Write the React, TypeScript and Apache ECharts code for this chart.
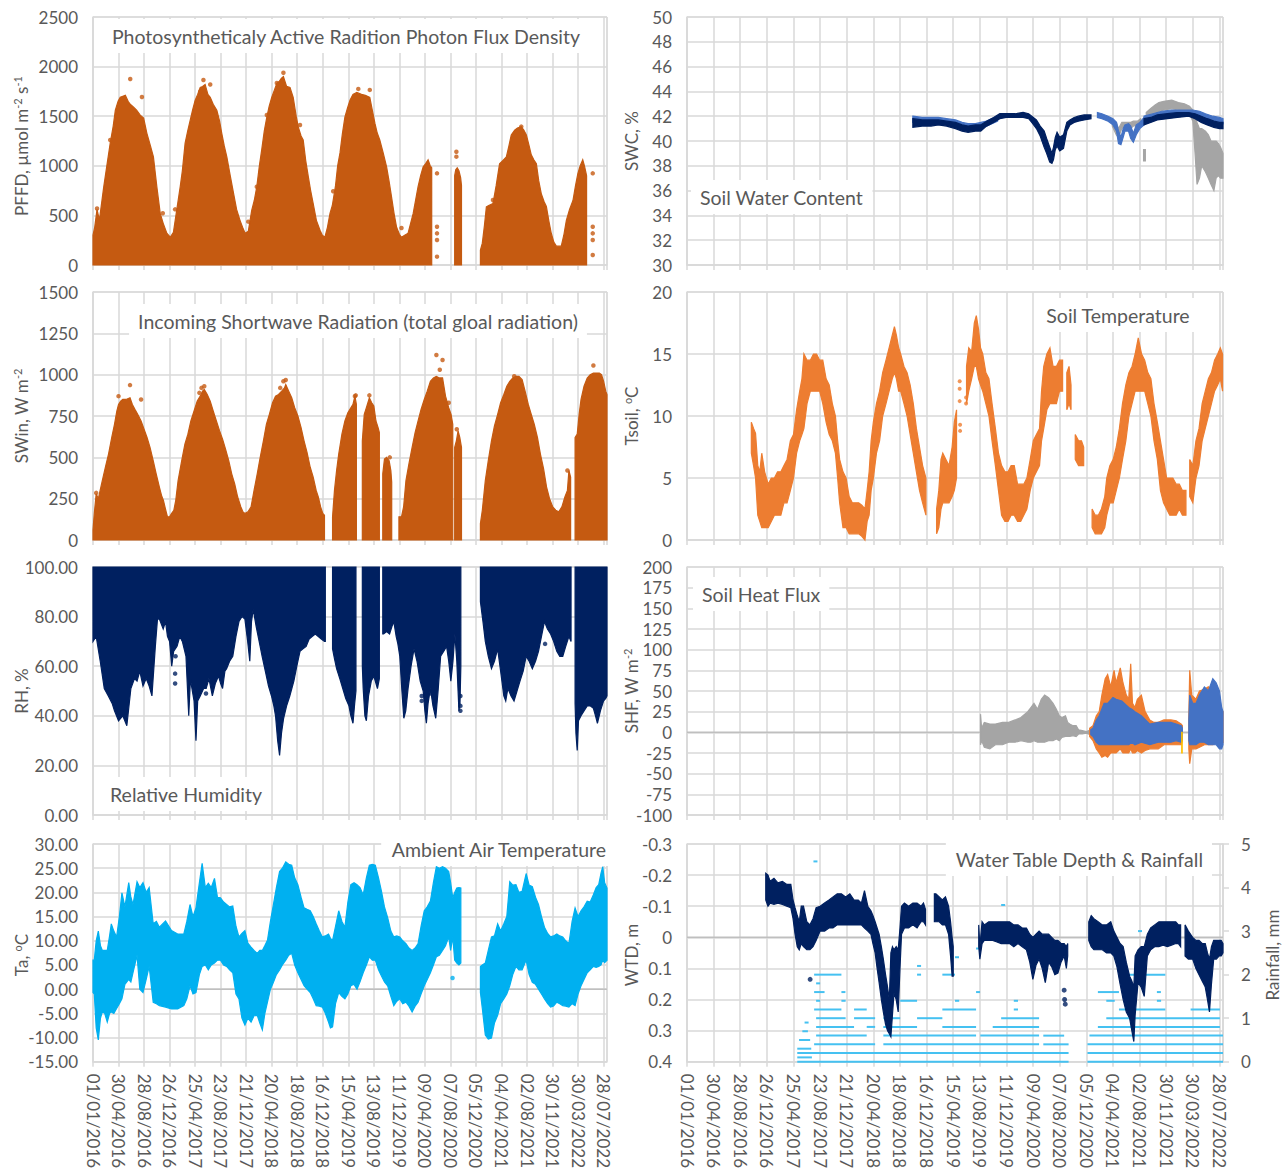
import React, { useEffect, useRef } from "react";
import * as echarts from "echarts";

// ---------- axes ----------
const X_MIN = 0;
const X_MAX = 2416; // days after 01/01/2016
const X_STEP = 120;
const START_UTC = Date.UTC(2016, 0, 1);

// ---------- data (day since 01/01/2016, values) ----------
// PFFD upper envelope [day, value] (filled down to 0)
const pffdSegments: number[][][] = [
  [[0,300],[8,380],[19,560],[30,450],[50,780],[65,1000],[81,1230],[95,1400],[105,1560],[118,1650],[128,1690],[140,1700],[152,1710],[165,1650],[175,1620],[191,1590],[205,1560],[222,1510],[238,1480],[253,1330],[270,1200],[284,1090],[300,790],[316,520],[330,420],[347,320],[363,280],[378,330],[394,560],[410,790],[420,950],[433,1230],[445,1350],[457,1460],[468,1560],[480,1660],[492,1720],[504,1790],[515,1800],[527,1820],[540,1720],[551,1690],[565,1620],[582,1560],[595,1450],[605,1330],[617,1200],[629,1090],[645,900],[660,730],[675,560],[691,450],[703,380],[715,320],[730,340],[746,550],[758,650],[770,790],[782,1000],[793,1160],[805,1350],[817,1490],[828,1600],[840,1690],[852,1760],[864,1830],[875,1850],[885,1880],[895,1900],[910,1800],[926,1790],[941,1690],[955,1500],[965,1390],[978,1300],[988,1260],[1000,1050],[1012,890],[1023,750],[1035,620],[1050,450],[1067,350],[1078,300],[1090,280],[1102,380],[1114,520],[1125,600],[1140,800],[1150,1000],[1161,1130],[1172,1320],[1184,1490],[1196,1580],[1208,1660],[1222,1720],[1240,1740],[1262,1720],[1280,1710],[1301,1690],[1313,1560],[1325,1430],[1336,1330],[1348,1260],[1364,1130],[1380,990],[1392,840],[1403,690],[1415,520],[1427,380],[1440,310],[1450,280],[1465,300],[1481,320],[1493,420],[1505,520],[1516,650],[1528,790],[1540,900],[1552,990],[1563,1020],[1575,1060],[1585,1000],[1592,980]],
  [[1700,900],[1705,960],[1712,980],[1720,950],[1728,880],[1732,800]],
  [[1821,150],[1830,220],[1840,400],[1849,585],[1860,600],[1870,610],[1880,620],[1895,800],[1911,1020],[1925,1050],[1943,1090],[1955,1200],[1966,1310],[1982,1360],[1995,1380],[2013,1395],[2025,1360],[2037,1310],[2050,1200],[2060,1110],[2072,1060],[2084,1020],[2095,850],[2107,720],[2120,640],[2131,590],[2143,440],[2154,320],[2166,230],[2178,190],[2190,190],[2201,190],[2213,300],[2225,450],[2240,560],[2256,650],[2268,800],[2279,920],[2290,1000],[2302,1060],[2310,1000],[2318,920],[2320,900]],
];
const pffdDots: number[][] = [
  [19,570],[81,1260],[175,1875],[230,1694],[328,521],[386,561],[504,1750],[519,1865],[551,1820],[730,437],[770,789],[817,1512],[864,1835],[895,1938],[973,1411],[1129,744],[1247,1775],[1301,1765],[1450,373],[1617,924],[1617,386],[1617,319],[1617,252],[1617,84],[1708,1142],[1708,1092],[1880,655],[2013,1395],[2349,924],[2349,386],[2349,319],[2349,252],[2349,101],
];

// SWin upper envelope [day, value]
const swinSegments: number[][][] = [
  [[0,60],[6,160],[15,280],[25,250],[44,360],[60,450],[73,520],[88,620],[101,700],[112,780],[120,820],[130,840],[140,850],[155,850],[174,860],[185,820],[197,790],[210,760],[226,720],[240,670],[254,620],[268,560],[283,480],[297,400],[312,320],[322,270],[331,240],[342,180],[350,140],[360,140],[369,160],[380,180],[389,240],[400,360],[417,480],[432,580],[446,640],[460,720],[475,780],[490,840],[504,870],[515,900],[523,910],[537,880],[551,840],[565,780],[580,720],[595,660],[609,610],[623,550],[638,480],[652,400],[666,340],[680,260],[695,200],[705,170],[714,160],[728,170],[743,200],[757,300],[772,400],[786,500],[801,600],[815,700],[829,760],[844,830],[858,870],[872,880],[887,900],[900,920],[906,940],[920,900],[934,860],[948,800],[963,750],[978,680],[992,600],[1006,530],[1021,440],[1035,380],[1049,300],[1059,260],[1070,200],[1080,160],[1088,150]],
  [[1126,140],[1135,300],[1145,420],[1155,520],[1170,640],[1184,720],[1198,770],[1212,800],[1222,820],[1231,870],[1238,820]],
  [[1266,600],[1275,760],[1285,800],[1299,860],[1310,830],[1320,810],[1330,720],[1340,680],[1346,650]],
  [[1362,400],[1370,490],[1380,500],[1392,480],[1400,420],[1404,350]],
  [[1438,140],[1450,140],[1460,200],[1471,360],[1485,460],[1500,560],[1514,650],[1528,720],[1542,790],[1557,850],[1571,900],[1586,960],[1600,980],[1614,990],[1628,980],[1643,980],[1657,870],[1672,800],[1683,760],[1691,700]],
  [[1700,560],[1708,600],[1716,660],[1724,620],[1732,560]],
  [[1821,100],[1830,180],[1844,360],[1858,480],[1873,600],[1887,690],[1902,760],[1916,830],[1931,880],[1945,930],[1959,960],[1973,980],[1988,990],[2002,990],[2017,970],[2031,900],[2046,820],[2060,760],[2074,700],[2089,620],[2103,520],[2118,430],[2132,320],[2146,250],[2161,200],[2175,180],[2189,170],[2204,200],[2218,260],[2230,300],[2237,420],[2245,380]],
  [[2266,620],[2276,640],[2285,760],[2294,850],[2308,930],[2323,980],[2337,1000],[2352,1010],[2366,1010],[2380,1010],[2390,1000],[2400,960],[2410,900],[2416,880]],
];
const swinDots: number[][] = [
  [15,285],[120,870],[174,937],[226,850],[500,890],[510,920],[523,930],[880,920],[895,960],[906,968],[1231,870],[1235,875],[1299,875],[1395,500],[1614,1119],[1630,1030],[1643,1089],[1672,830],[1710,670],[1980,990],[2230,420],[2352,1055],
];

// RH lower envelope [day, value] (filled up to 100)
const rhSegments: number[][][] = [
  [[0,70],[15,72],[34,62],[53,51],[72,48],[90,45],[101,42],[120,38],[140,40],[159,36],[178,51],[195,55],[207,54],[220,58],[235,52],[250,55],[264,52],[277,48],[293,68],[303,79],[312,79],[330,75],[341,78],[350,72],[360,70],[370,60],[379,66],[395,68],[408,72],[420,70],[437,64],[450,40],[458,55],[465,51],[475,46],[484,30],[492,46],[504,48],[520,51],[532,51],[545,55],[561,48],[575,53],[590,56],[600,53],[609,51],[620,58],[628,59],[642,62],[657,64],[672,72],[686,78],[700,80],[714,79],[727,70],[737,62],[745,78],[753,83],[767,76],[781,70],[795,64],[810,58],[825,52],[839,48],[850,44],[858,40],[868,30],[877,24],[886,33],[896,39],[910,44],[925,48],[944,54],[958,60],[973,66],[987,67],[1002,68],[1016,71],[1030,72],[1045,73],[1059,72],[1073,71],[1088,70],[1092,70]],
  [[1126,67],[1135,63],[1145,59],[1160,55],[1174,51],[1188,47],[1203,44],[1212,40],[1222,37],[1230,45],[1236,50]],
  [[1266,60],[1270,51],[1278,40],[1285,38],[1295,48],[1308,54],[1320,56],[1337,51],[1346,55]],
  [[1362,73],[1366,73],[1380,74],[1394,73],[1405,76],[1414,78],[1425,72],[1433,69],[1442,64],[1452,50],[1461,39],[1470,42],[1481,51],[1495,60],[1509,67],[1523,62],[1538,54],[1552,50],[1560,42],[1567,37],[1575,45],[1586,51],[1598,44],[1611,39],[1622,50],[1634,64],[1648,66],[1662,68],[1672,62],[1682,54],[1692,62],[1701,73],[1710,62],[1716,50],[1720,42],[1725,45],[1729,60]],
  [[1821,86],[1833,78],[1844,70],[1858,64],[1873,59],[1887,62],[1902,67],[1916,58],[1931,48],[1940,46],[1950,51],[1965,48],[1979,46],[1993,50],[2007,54],[2022,58],[2036,64],[2050,62],[2065,59],[2080,62],[2094,66],[2108,72],[2122,78],[2136,75],[2151,73],[2165,70],[2180,66],[2194,64],[2208,64],[2222,68],[2237,72],[2247,70]],
  [[2266,45],[2270,33],[2276,26],[2282,38],[2294,40],[2308,42],[2323,44],[2337,44],[2352,43],[2362,40],[2371,37],[2385,42],[2400,46],[2410,47],[2416,48]],
];
const rhDots: number[][] = [[386,53],[386,57],[388,64],[1545,48],[1545,46],[1590,49],[1727,42],[1727,44],[1727,48],[531,49],[2125,69]];

// Ta band [day, low, high]
const taSegments: number[][][] = [
  [[0,-0.7,6],[6,-1,6],[15,-8,10],[25,-10.5,12],[35,-6,9],[44,-4.7,8],[55,-5,8],[67,-6.8,8],[78,-5,11],[86,-4.7,13.5],[98,-5,12],[111,-4,10.8],[124,-3,15],[136,-2,19.9],[150,1,17],[168,2,22],[178,1.5,19],[188,3.4,17.5],[207,7,22.2],[220,0,21],[235,-0.7,22],[250,2,20],[264,4.7,21],[283,-2.7,13.5],[298,-3,14],[312,-3.4,12.8],[341,-3.7,14.1],[369,-4.1,12.1],[398,-4.1,11.4],[427,-3.4,11.4],[441,-2,14],[456,0.7,17.5],[470,-1,15],[484,-0.7,16.8],[500,3,22],[513,4.7,26],[528,5,21],[542,4,21.9],[556,5,21],[571,5.4,22.9],[585,6,19],[599,6,18.9],[614,5,18],[628,4.7,17.5],[642,4,17],[657,3.4,17.2],[672,-1,13],[686,-2,10.8],[700,-6,11.5],[714,-7.4,12.1],[728,-6,9.5],[743,-6.8,8.7],[757,-5.5,8],[772,-5.4,7.4],[784,-7,8],[796,-8.4,8],[808,-5,9],[820,-2.7,10.1],[834,0,14],[848,1.4,17.5],[862,3,21],[877,4,24.3],[890,5,25],[906,6,26.3],[920,7,25.8],[934,7.4,25.6],[948,5,23],[963,3.4,21.6],[978,2,19],[992,0.7,16.8],[1006,0,16.5],[1021,-0.7,16.2],[1035,-2,15],[1049,-3.4,13.5],[1064,-3.5,12],[1078,-3.7,10.8],[1092,-5,11],[1107,-6.8,11.4],[1116,-8,10.5],[1126,-7.8,10.1],[1140,-3,13],[1155,-0.7,16.2],[1170,-1.5,14],[1184,-2,12.8],[1198,-1,18],[1212,0.7,21.6],[1227,1,22],[1241,0,21.6],[1255,1.5,21],[1270,3.4,19.5],[1285,5,23],[1299,6.7,25.6],[1313,6,25.8],[1327,6,25.6],[1342,4,23],[1356,2.7,20.2],[1370,1.5,17],[1385,0.7,14.8],[1400,-1.5,12],[1414,-3.4,10.8],[1428,-2.5,11],[1442,-2,10.8],[1456,-3,10],[1471,-2.7,9.4],[1485,-3.5,8.5],[1500,-4.7,8],[1514,-3.5,8.5],[1528,-2.7,9.4],[1542,-1,13],[1557,0.7,16.2],[1571,2,17],[1586,3.4,18.2],[1600,5,22],[1614,6.7,25.3],[1628,7,25],[1643,8,25.3],[1657,9,25],[1672,10.8,24.3],[1681,8,22],[1691,10.8,18.9],[1700,6,20],[1710,5.4,20.9],[1720,5,21],[1729,5.4,20.9]],
  [[1821,-0.7,4.7],[1830,-4,5],[1844,-9.5,5.4],[1858,-10.3,8],[1873,-10.1,10.8],[1887,-7,11],[1902,-5.4,13.5],[1916,-3,12],[1931,-2,13.5],[1945,-1,15],[1959,0.7,22.2],[1973,3,21.5],[1988,4.7,21.6],[2002,4,20],[2017,4,20.2],[2036,6,23.9],[2050,3,21.5],[2065,1.4,21.2],[2080,1,19],[2094,0,17.5],[2108,-1,15],[2122,-2,12.8],[2137,-3,11.5],[2151,-3.7,10.8],[2165,-3.5,11],[2180,-2.7,11.4],[2194,-3,11],[2208,-3.4,10.8],[2222,-3.5,10],[2237,-3.7,9.4],[2252,-3,14],[2266,-3.4,16.8],[2280,-1,15],[2294,0.7,16.2],[2308,2,17],[2323,3.4,18.2],[2337,4,18],[2352,4.7,19.5],[2365,4.5,21],[2377,4.7,21.6],[2388,5,24],[2396,6,25.3],[2405,5.5,22],[2416,6,20.9]],
];
const taDots: number[][] = [[1690,2.3],[1129,-3.3]];

// Soil water content bands [day, low, high]
const swcGraySegments: number[][][] = [
  [[1917,41.2,41.6],[1935,40.5,41.5],[1945,40.3,41],[1960,41,41.5],[1980,41.2,41.5],[2000,41,41.5],[2012,41.2,41.6],[2030,41.3,41.6],[2045,41.5,41.8]],
  [[2058,38.4,39.3],[2066,38.4,39.3]],
  [[2070,41.6,42.3],[2089,41.8,42.6],[2110,42.2,42.9],[2127,42.4,43.1],[2150,42.5,43.2],[2185,42.6,43.3],[2215,42.5,43.1],[2242,42.4,43],[2265,42.2,42.8],[2280,41.6,42.5],[2290,39,42],[2299,36.5,41.5],[2310,37,41],[2320,38,41],[2337,37.5,40.8],[2350,37,40.5],[2362,36.5,40],[2375,36,40],[2385,37,40],[2395,37.2,39.8],[2405,37,39.5],[2416,37,39]],
];
const swcBlueSegments: number[][][] = [
  [[1018,41.5,42],[1060,41.5,41.9],[1100,41.5,41.9],[1133,41.5,41.9],[1170,41.5,41.8],[1210,41.2,41.7],[1240,41,41.5],[1267,40.9,41.4],[1300,41,41.4],[1350,41.2,41.6],[1400,41.6,42]],
  [[1850,41.9,42.3],[1870,41.8,42.2],[1898,41.6,42],[1920,41.3,41.8],[1936,40.8,41.5],[1945,39.8,40.8],[1956,39.7,40.3],[1966,40.3,41],[1974,40.8,41.3],[1990,40.8,41.4],[2000,40.2,41.2],[2012,39.9,40.6],[2025,40.5,41.3],[2041,41,41.5],[2060,41.3,41.9]],
  [[2060,41.5,42],[2100,41.8,42.2],[2140,42,42.4],[2185,42.1,42.5],[2230,42.1,42.5],[2280,42,42.5],[2310,41.9,42.4],[2337,41.7,42.2],[2370,41.6,42],[2400,41.5,41.9],[2416,41.4,41.8]],
];
const swcNavySegments: number[][][] = [
  [[1018,41.1,41.8],[1060,41.2,41.7],[1100,41.2,41.7],[1133,41.3,41.7],[1170,41.2,41.6],[1210,41,41.5],[1240,40.8,41.3],[1267,40.7,41.2],[1300,40.8,41.3],[1324,40.8,41.3],[1350,41.2,41.6],[1382,41.5,41.9],[1410,41.8,42.2],[1439,41.9,42.2],[1480,41.9,42.2],[1515,41.9,42.3],[1540,41.8,42.2],[1554,41.5,42],[1575,41,41.7],[1592,40.4,41.2],[1610,39.5,40.8],[1621,39,40.2],[1635,38.3,39.5],[1645,38.2,39],[1652,38.5,39.5],[1660,39.3,40.3],[1668,39.6,40.7],[1680,39.2,40.3],[1697,39.4,40.5],[1712,40.8,41.5],[1726,41.3,41.7],[1745,41.5,41.9],[1764,41.6,42],[1790,41.7,42.1],[1821,41.8,42.1]],
  [[2060,41.3,41.8],[2090,41.5,41.9],[2120,41.7,42.1],[2165,41.8,42.2],[2210,41.9,42.3],[2261,42,42.3],[2290,41.8,42.2],[2318,41.5,42],[2345,41.3,41.8],[2375,41.1,41.6],[2400,41,41.5],[2416,41,41.5]],
];

// Soil temperature band [day, low, high]
const tsoilSegments: number[][][] = [
  [[290,7,9.5],[300,6,9],[309,5,8.6],[319,2,6],[328,1.5,5.5],[337,1,7],[350,1,5.5],[366,1,4.5],[380,1.5,5],[394,2,5],[408,2,5.5],[423,2,5.5],[437,3,6],[451,3,6.5],[466,4,8],[480,5,8.5],[494,7,10.5],[508,8,12],[518,8.5,13],[527,9,15],[541,11,14.5],[556,12,14.5],[570,12,15],[584,12,15],[598,12,14.5],[612,11,14.5],[627,9.5,13],[641,8.5,12.5],[655,8,11],[669,7,10],[679,5,8],[688,3,6.5],[703,1,5.5],[717,1,5],[731,0.5,3.5],[745,0.5,3],[760,0.5,3],[774,0.5,3],[788,0.3,2.8],[802,0,2.5],[812,1.5,4],[821,2,5.5],[830,4,8],[840,5,9.5],[854,7,11],[868,8,12],[882,10,13.5],[897,11,14.5],[911,12,15.5],[925,13,16.5],[935,13.5,17.2],[944,13,16.5],[954,12,15.5],[963,12,15],[978,11,14],[992,10,13.5],[1006,8.5,12.5],[1020,7,11],[1034,5.5,9],[1048,4,7.5],[1062,3,6],[1077,2,5]],
  [[1125,0.5,2.5],[1135,1,4],[1145,2.5,6.5],[1153,3,7],[1167,3,6.5],[1181,3,6],[1195,3.5,7.5],[1205,4,9.5],[1215,5,10.5]],
  [[1260,11,14],[1270,12,15.5],[1283,13,15.2],[1295,14,17.5],[1304,14,18.1],[1314,13,17],[1323,12.5,15.5],[1333,12,15],[1347,11,13.5],[1361,10,13],[1375,8,11],[1390,6,9],[1404,4,7],[1418,2,6],[1433,1.5,5.5],[1447,1.5,5.5],[1461,2,6],[1475,2,6],[1490,1.5,4.5],[1504,1.5,4.5],[1518,2,4.5],[1532,2.5,5],[1547,4,6.5],[1561,5,8],[1575,5.5,8.5],[1589,6,9],[1598,8,12],[1608,9,14],[1622,10.5,15],[1636,11,15.5],[1650,11,14],[1665,11,14],[1679,12,14.5],[1693,12,14.5]],
  [[1712,10.5,13.5],[1722,11,14],[1731,10.5,12.5]],
  [[1750,6.5,8.5],[1765,6,8],[1778,6,8],[1788,6,7.5]],
  [[1826,1,2.5],[1840,0.5,2],[1854,0.5,2],[1868,0.5,2.5],[1883,1,3.5],[1892,2,5],[1906,3,6],[1921,3,6.5],[1935,4,7.5],[1949,5,9],[1963,6.5,11],[1978,8,12.5],[1992,10,13.5],[2006,11,14],[2020,12,15],[2034,12,16.3],[2049,12,15],[2063,12,14.5],[2077,11,13.5],[2091,10,13],[2105,8,11],[2120,6.5,9.5],[2134,4,8],[2148,3,6.5],[2162,2.5,5],[2176,2,5],[2190,2,5],[2205,2,4.5],[2219,2.5,4.5],[2233,2,4],[2249,2,4]],
  [[2266,3.5,6.5],[2280,3,6],[2294,5,8],[2308,6,9],[2322,8,11],[2336,9,12],[2350,10,13],[2364,11,13.5],[2378,12,14.5],[2392,12.5,15],[2404,13,15.5],[2414,12,15]],
];
const tsoilDots: number[][] = [[1229,12.8],[1229,12.2],[1229,11.2],[1231,9.3],[1231,8.8],[1258,11],[1258,11.5]];

// Soil heat flux bands [day, low, high]
const shfGraySegments: number[][][] = [
  [[1323,-15,22],[1328,-10,5],[1340,-18,12],[1365,-20,10],[1390,-15,10],[1422,-15,12],[1450,-12,12],[1479,-12,15],[1505,-10,18],[1536,-12,25],[1550,-12,30],[1564,-10,35],[1580,-12,28],[1597,-12,40],[1612,-12,45],[1630,-10,42],[1650,-10,35],[1665,-8,28],[1678,-10,20],[1690,-6,18],[1706,-5,20],[1716,-5,12],[1725,-5,10],[1740,-4,8],[1754,-5,8],[1765,-2,3],[1782,-2,2],[1800,-1,1],[1820,-3,3],[1830,-2,2]],
];
const shfOrangeSegments: number[][][] = [
  [[1815,-5,5],[1830,-10,8],[1845,-20,20],[1858,-25,25],[1870,-30,45],[1885,-28,65],[1896,-30,70],[1910,-25,55],[1925,-25,75],[1934,-25,60],[1945,-22,70],[1953,-20,78],[1965,-25,60],[1980,-25,45],[1991,-25,40],[2000,-20,83],[2008,-25,35],[2019,-25,30],[2030,-22,40],[2048,-25,45],[2065,-22,25],[2086,-20,15],[2105,-20,12],[2124,-20,12],[2150,-15,15],[2181,-15,15],[2205,-15,14],[2228,-15,10],[2233,-10,8]],
  [[2262,-20,20],[2266,-38,75],[2275,-20,45],[2294,-20,40],[2310,-18,50],[2332,-15,52],[2350,-15,55],[2370,-15,50],[2390,-12,45],[2404,-10,30],[2416,-12,25]],
];
const shfBlueSegments: number[][][] = [
  [[1820,-3,3],[1830,-5,5],[1845,-12,15],[1858,-15,20],[1880,-15,35],[1896,-15,35],[1920,-15,42],[1934,-15,40],[1960,-15,38],[1991,-15,30],[2005,-12,28],[2019,-15,25],[2048,-12,20],[2086,-15,10],[2124,-12,12],[2160,-12,12],[2181,-12,12],[2205,-10,10],[2228,-12,8],[2233,-8,5]],
  [[2262,-10,15],[2266,-15,45],[2280,-15,35],[2294,-15,35],[2310,-12,45],[2332,-12,55],[2350,-15,50],[2370,-15,65],[2385,-15,60],[2400,-20,50],[2410,-20,30],[2416,-15,25]],
];
const shfYellowSegments: number[][][] = [[[2230,-25,0],[2232,-25,0]]];

// Water table depth band [day, low, high] (m)
const wtdSegments: number[][][] = [
  [[355,-0.206,-0.12],[365,-0.2,-0.1],[375,-0.18,-0.11],[392,-0.19,-0.106],[410,-0.175,-0.11],[430,-0.18,-0.106],[450,-0.17,-0.1],[468,-0.17,-0.095],[478,-0.12,-0.06],[487,-0.095,-0.01],[497,-0.07,0.03],[506,-0.05,0.04],[515,-0.1,0.02],[525,-0.1,0.03],[540,-0.05,0.04],[554,-0.04,0.04],[568,-0.06,0.03],[582,-0.095,0.01],[600,-0.1,-0.02],[620,-0.11,-0.02],[640,-0.12,-0.03],[658,-0.13,-0.03],[677,-0.14,-0.04],[696,-0.14,-0.04],[715,-0.13,-0.04],[734,-0.14,-0.04],[753,-0.12,-0.04],[772,-0.12,-0.04],[786,-0.11,-0.04],[800,-0.15,-0.03],[815,-0.1,-0.02],[829,-0.085,-0.01],[838,-0.07,0.02],[848,-0.05,0.05],[857,-0.03,0.1],[866,-0.01,0.146],[876,0.03,0.2],[885,0.07,0.24],[895,0.12,0.28],[904,0.16,0.3],[912,0.2,0.31],[919,0.05,0.32],[926,0.03,0.25],[933,0.04,0.18],[943,0.03,0.2],[952,0.04,0.24],[960,-0.03,0.1],[967,-0.1,-0.01],[980,-0.11,-0.03],[999,-0.1,-0.03],[1018,-0.11,-0.04],[1037,-0.11,-0.03],[1055,-0.1,-0.05],[1066,-0.11,-0.05],[1075,-0.09,-0.04]],
  [[1115,-0.14,-0.05],[1122,-0.14,-0.05],[1137,-0.13,-0.05],[1151,-0.12,-0.04],[1165,-0.13,-0.04],[1179,-0.1,-0.01],[1188,-0.05,0.06],[1195,0,0.125],[1200,0.03,0.125]],
  [[1315,-0.04,0.03],[1320,0.03,0.07],[1330,-0.05,0.02],[1340,-0.04,0.01],[1360,-0.05,0.01],[1378,-0.05,0.01],[1397,-0.05,0.015],[1416,-0.05,0.02],[1435,-0.05,0.02],[1454,-0.05,0.02],[1473,-0.04,0.03],[1492,-0.04,0.02],[1511,-0.03,0.03],[1530,-0.03,0.04],[1545,-0.01,0.08],[1559,0,0.135],[1573,-0.01,0.09],[1587,-0.02,0.07],[1601,-0.01,0.1],[1615,-0.01,0.146],[1630,-0.01,0.08],[1644,0,0.095],[1658,0.01,0.12],[1672,0.01,0.115],[1686,0.02,0.08],[1700,0.02,0.06],[1710,0.03,0.1],[1716,0.02,0.06]],
  [[1811,-0.05,0.01],[1822,-0.07,0.03],[1834,-0.06,0.04],[1853,-0.05,0.04],[1872,-0.04,0.04],[1891,-0.04,0.05],[1910,-0.05,0.05],[1924,-0.02,0.06],[1938,0,0.095],[1952,0.02,0.15],[1966,0.03,0.2],[1980,0.08,0.24],[1995,0.125,0.26],[2005,0.14,0.3],[2014,0.16,0.335],[2020,0.06,0.25],[2033,0.04,0.146],[2047,0.03,0.16],[2061,0.03,0.19],[2075,-0.01,0.06],[2090,-0.03,0.04],[2108,-0.04,0.03],[2127,-0.05,0.03],[2146,-0.05,0.025],[2165,-0.05,0.03],[2184,-0.05,0.025],[2203,-0.05,0.02],[2215,-0.04,0.02],[2225,-0.04,0.03]],
  [[2245,-0.04,0.06],[2260,-0.02,0.07],[2279,0,0.07],[2294,0.01,0.1],[2308,0.01,0.12],[2322,0.02,0.14],[2336,0.02,0.16],[2346,0.05,0.2],[2355,0.07,0.24],[2364,0.03,0.15],[2374,0.01,0.07],[2386,0.01,0.07],[2398,0.01,0.06],[2408,0.01,0.06],[2416,0.02,0.05]],
];
const wtdDots: number[][] = [[555,0.135],[1700,0.17],[1702,0.2],[1705,0.215]];

// Rainfall runs [start day, end day, mm]
const rainRuns: number[][] = [
  [497,1720,0],[1805,2416,0],
  [497,563,0.1],[497,560,0.3],[505,555,0.5],[520,545,0.7],[530,540,0.9],
  [497,1720,0.2],[1805,2416,0.2],
  [573,848,0.4],[885,1587,0.4],[1606,1720,0.4],[1805,2416,0.4],
  [582,810,0.6],[885,1303,0.6],[1322,1587,0.6],[1606,1700,0.6],[1814,2416,0.6],
  [582,753,0.8],[810,848,0.8],[885,1037,0.8],[1151,1303,0.8],[1378,1587,0.8],[1852,2402,0.8],
  [582,715,1.0],[753,848,1.0],[885,961,1.0],[1037,1151,1.0],[1416,1587,1.0],[1890,2402,1.0],
  [573,696,1.2],[753,810,1.2],[885,923,1.2],[1151,1303,1.2],[1473,1492,1.2],[1947,2156,1.2],[2270,2402,1.2],
  [582,600,1.4],[696,715,1.4],[961,1037,1.4],[1208,1227,1.4],[1473,1492,1.4],[1890,1928,1.4],[2118,2137,1.4],
  [573,620,1.6],[696,702,1.6],[1303,1310,1.6],[1852,1947,1.6],[2118,2125,1.6],
  [582,590,1.8],[2042,2061,1.8],
  [573,696,2.0],[1037,1050,2.0],[1151,1208,2.0],[1985,2156,2.0],
  [1037,1045,2.2],
  [1208,1215,2.4],[2033,2040,2.4],[2345,2383,2.4],
  [1303,1310,2.6],
  [582,590,3.0],[2033,2040,3.0],
  [1416,1424,3.6],
  [570,576,4.6],
];

// ---------- styling ----------
const FONT = "Lato, 'Open Sans', sans-serif";
const TXT = "#595959";
const GRID = "#D9D9D9";
const C_ORANGE_DK = "#C55A11";
const C_NAVY = "#002060";
const C_LBLUE = "#00B0F0";
const C_ORANGE = "#ED7D31";
const C_BLUE = "#4472C4";
const C_GRAY = "#A5A5A5";
const C_RAIN = "#45C1F1";
const C_YELLOW = "#FFC000";

const COL_LEFT = [93, 687];
const COL_WIDTH = [514, 536];
const ROW_TOP = [17, 292, 567, 844];
const ROW_HEIGHT = [248, 248, 248, 223];

function fmtDate(v: number): string {
  const d = new Date(START_UTC + Math.round(v) * 86400000);
  const p = (n: number) => String(n).padStart(2, "0");
  return `${p(d.getUTCDate())}/${p(d.getUTCMonth() + 1)}/${d.getUTCFullYear()}`;
}

function band(grid: number, segs: number[][][], color: string, z = 3) {
  return {
    type: "custom",
    coordinateSystem: "cartesian2d",
    xAxisIndex: grid,
    yAxisIndex: grid,
    silent: true,
    z,
    data: segs.map((s) => {
      const lows = s.map((p) => Math.min(p[1], p[2]));
      const highs = s.map((p) => Math.max(p[1], p[2]));
      return [s[0][0], s[s.length - 1][0], Math.min(...lows), Math.max(...highs)];
    }),
    encode: { x: [0, 1], y: [2, 3] },
    renderItem: (params: any, api: any) => {
      const s = segs[params.dataIndex];
      const top = s.map((p) => api.coord([p[0], p[2]]));
      const bot = s.slice().reverse().map((p) => api.coord([p[0], p[1]]));
      return {
        type: "polygon",
        shape: { points: top.concat(bot) },
        style: { fill: color, stroke: color, lineWidth: 1.2 },
      };
    },
  };
}

function dots(grid: number, data: number[][], color: string, size = 4.5) {
  return {
    type: "scatter",
    xAxisIndex: grid,
    yAxisIndex: grid,
    silent: true,
    z: 4,
    symbolSize: size,
    itemStyle: { color },
    data,
  };
}

function zeroLine(grid: number) {
  return {
    type: "line",
    xAxisIndex: grid,
    yAxisIndex: grid,
    silent: true,
    z: 2,
    symbol: "none",
    lineStyle: { color: "#BFBFBF", width: 1.5 },
    data: [[X_MIN, 0], [X_MAX, 0]],
  };
}

const toBase = (segs: number[][][], base: number) =>
  segs.map((s) => s.map((p) => [p[0], base, p[1]]));

const yCfg: any[] = [
  { min: 0, max: 2500, interval: 500, fmt: (v: number) => String(v) },
  { min: 30, max: 50, interval: 2, fmt: (v: number) => String(Math.round(v)) },
  { min: 0, max: 1500, interval: 250, fmt: (v: number) => String(v) },
  { min: 0, max: 20, interval: 5, fmt: (v: number) => String(v) },
  { min: 0, max: 100, interval: 20, fmt: (v: number) => v.toFixed(2) },
  { min: -100, max: 200, interval: 25, fmt: (v: number) => String(v) },
  { min: -15, max: 30, interval: 5, fmt: (v: number) => v.toFixed(2) },
  {
    min: -0.3, max: 0.4, interval: 0.1, inverse: true,
    fmt: (v: number) => { const r = Math.round(v * 10) / 10; return r === 0 ? "0" : String(r); },
  },
];

function buildOption() {
  const grids: any[] = [];
  const xAxes: any[] = [];
  const yAxes: any[] = [];
  for (let i = 0; i < 8; i++) {
    const row = Math.floor(i / 2);
    const col = i % 2;
    grids.push({
      left: COL_LEFT[col], top: ROW_TOP[row], width: COL_WIDTH[col], height: ROW_HEIGHT[row],
      show: true, borderColor: GRID, borderWidth: 1, containLabel: false,
    });
    xAxes.push({
      type: "value", gridIndex: i, min: X_MIN, max: X_MAX, interval: X_STEP,
      axisLine: { show: true, onZero: false, lineStyle: { color: GRID, width: 1.5 } },
      axisTick: { show: true, length: 5, lineStyle: { color: GRID, width: 1.5 } },
      axisLabel: {
        show: row === 3, rotate: -90, margin: 12, color: TXT, fontSize: 17, fontFamily: FONT,
        showMaxLabel: false,
        formatter: (v: number) => (v % X_STEP === 0 ? fmtDate(v) : ""),
      },
      splitLine: { show: true, lineStyle: { color: GRID, width: 1.5 } },
    });
    const c = yCfg[i];
    yAxes.push({
      type: "value", gridIndex: i, min: c.min, max: c.max, interval: c.interval, inverse: !!c.inverse,
      axisLine: { show: true, lineStyle: { color: GRID, width: 1.5 } },
      axisTick: { show: false },
      axisLabel: { margin: 15, color: TXT, fontSize: 17, fontFamily: FONT, formatter: c.fmt },
      splitLine: { show: true, lineStyle: { color: GRID, width: 1.5 } },
    });
  }
  // secondary rainfall axis
  yAxes.push({
    type: "value", gridIndex: 7, position: "right", min: 0, max: 5, interval: 1,
    axisLine: { show: true, lineStyle: { color: GRID, width: 1.5 } },
    axisTick: { show: true, length: 6, lineStyle: { color: GRID, width: 1.5 } },
    axisLabel: { margin: 18, color: TXT, fontSize: 17, fontFamily: FONT },
    splitLine: { show: false },
  });

  const rainSeries = {
    type: "custom",
    coordinateSystem: "cartesian2d",
    xAxisIndex: 7,
    yAxisIndex: 8,
    silent: true,
    z: 3,
    data: rainRuns.map((r) => [r[0], r[1], r[2]]),
    encode: { x: [0, 1], y: [2] },
    renderItem: (params: any, api: any) => {
      const a = api.coord([api.value(0), api.value(2)]);
      const b = api.coord([api.value(1), api.value(2)]);
      return {
        type: "line",
        shape: { x1: a[0], y1: a[1], x2: Math.max(b[0], a[0] + 4), y2: b[1] },
        style: { stroke: C_RAIN, lineWidth: 2 },
      };
    },
  };

  const series: any[] = [
    band(0, toBase(pffdSegments, 0), C_ORANGE_DK),
    dots(0, pffdDots, C_ORANGE_DK),
    band(1, swcGraySegments, C_GRAY),
    band(1, swcBlueSegments, C_BLUE),
    band(1, swcNavySegments, C_NAVY),
    band(2, toBase(swinSegments, 0), C_ORANGE_DK),
    dots(2, swinDots, C_ORANGE_DK),
    band(3, tsoilSegments, C_ORANGE),
    dots(3, tsoilDots, C_ORANGE, 4),
    band(4, toBase(rhSegments, 100), C_NAVY),
    dots(4, rhDots, C_NAVY),
    zeroLine(5),
    band(5, shfGraySegments, C_GRAY),
    band(5, shfOrangeSegments, C_ORANGE),
    band(5, shfBlueSegments, C_BLUE),
    band(5, shfYellowSegments, C_YELLOW),
    zeroLine(6),
    band(6, taSegments, C_LBLUE),
    dots(6, taDots, C_LBLUE),
    zeroLine(7),
    rainSeries,
    band(7, wtdSegments, C_NAVY, 4),
    dots(7, wtdDots, C_NAVY, 5),
  ];

  const titleStyle = (text: string, align: string) => ({
    text, fill: TXT, fontSize: 19.5, fontFamily: FONT, align, verticalAlign: "middle",
    backgroundColor: "#FFFFFF", padding: [7, 9, 7, 9],
  });
  const titles = [
    { x: 346, y: 36, t: "Photosyntheticaly Active Radition Photon Flux Density", a: "center" },
    { x: 691, y: 197, t: "Soil Water Content", a: "left" },
    { x: 358, y: 321, t: "Incoming Shortwave Radiation (total gloal radiation)", a: "center" },
    { x: 1118, y: 315, t: "Soil Temperature", a: "center" },
    { x: 101, y: 794, t: "Relative Humidity", a: "left" },
    { x: 693, y: 594, t: "Soil Heat Flux", a: "left" },
    { x: 615, y: 849, t: "Ambient Air Temperature", a: "right" },
    { x: 1212, y: 859, t: "Water Table Depth & Rainfall", a: "right" },
  ];
  const sup = { fontSize: 11, fontFamily: FONT, fill: TXT, verticalAlign: "top", padding: [0, 0, 8, 0] };
  const axisNames = [
    { x: 21, y: 146, t: "PFFD, µmol m{s|-2} s{s|-1}" },
    { x: 21, y: 416, t: "SWin, W m{s|-2}" },
    { x: 21, y: 691, t: "RH, %" },
    { x: 21, y: 955, t: "Ta, {s|o}C" },
    { x: 631, y: 141, t: "SWC, %" },
    { x: 631, y: 416, t: "Tsoil, {s|o}C" },
    { x: 631, y: 691, t: "SHF, W m{s|-2}" },
    { x: 631, y: 955, t: "WTD, m" },
    { x: 1272, y: 955, t: "Rainfall, mm" },
  ];
  const graphic: any[] = [
    ...titles.map((o) => ({ type: "text", x: o.x, y: o.y, z: 100, silent: true, style: titleStyle(o.t, o.a) })),
    ...axisNames.map((o) => ({
      type: "text", x: o.x, y: o.y, rotation: Math.PI / 2, z: 100, silent: true,
      style: {
        text: o.t, fill: TXT, fontSize: 17, fontFamily: FONT, align: "center", verticalAlign: "middle",
        rich: { s: sup },
      },
    })),
  ];

  return {
    animation: false,
    backgroundColor: "#FFFFFF",
    textStyle: { fontFamily: FONT },
    grid: grids,
    xAxis: xAxes,
    yAxis: yAxes,
    series,
    graphic,
  };
}

export default function App() {
  const ref = useRef<HTMLDivElement>(null);
  useEffect(() => {
    document.body.style.margin = "0";
    if (!ref.current) return;
    const chart = echarts.init(ref.current, null, { renderer: "svg" });
    chart.setOption(buildOption() as any);
    return () => chart.dispose();
  }, []);
  return <div ref={ref} style={{ width: 1286, height: 1171, background: "#fff" }} />;
}
